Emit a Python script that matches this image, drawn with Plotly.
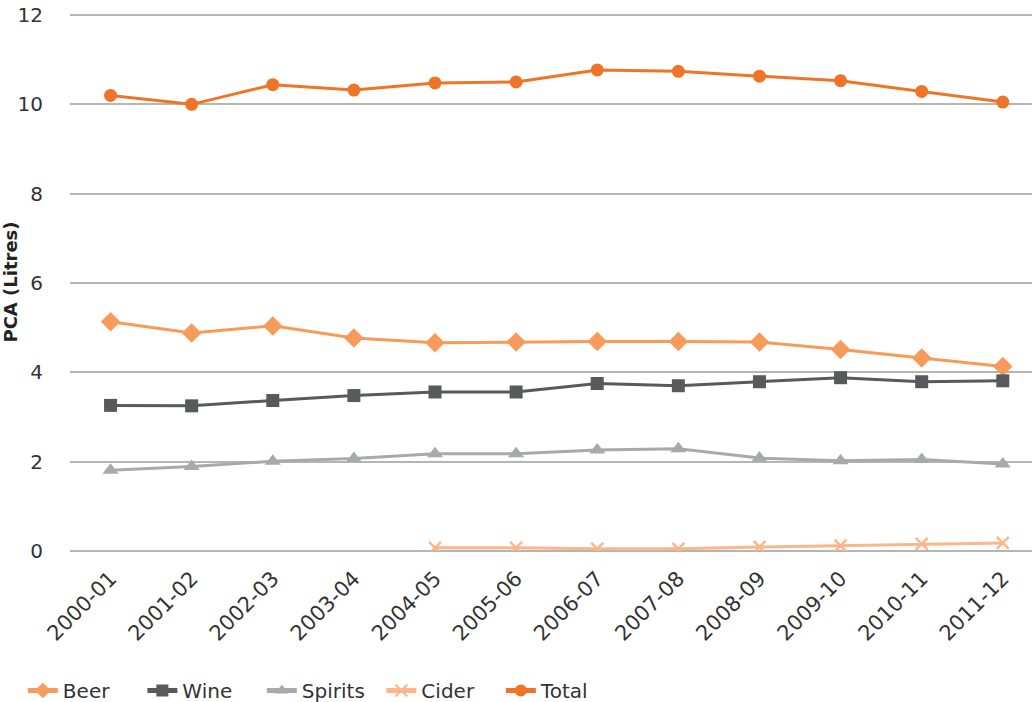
import plotly.graph_objects as go

years = ["2000-01", "2001-02", "2002-03", "2003-04", "2004-05", "2005-06",
         "2006-07", "2007-08", "2008-09", "2009-10", "2010-11", "2011-12"]
beer = [5.13, 4.88, 5.04, 4.77, 4.66, 4.68, 4.69, 4.69, 4.68, 4.51, 4.32, 4.13]
wine = [3.26, 3.25, 3.37, 3.48, 3.56, 3.56, 3.75, 3.70, 3.79, 3.88, 3.79, 3.81]
spirits = [1.81, 1.89, 2.01, 2.07, 2.18, 2.18, 2.26, 2.29, 2.08, 2.02, 2.05, 1.95]
cider = [None, None, None, None, 0.07, 0.07, 0.05, 0.05, 0.09, 0.12, 0.16, 0.18]
total = [10.20, 10.00, 10.44, 10.32, 10.48, 10.50, 10.77, 10.74, 10.63, 10.53, 10.29, 10.05]
y_ticks = [0, 2, 4, 6, 8, 10, 12]

series = [
    ("Beer", beer, "#F79A5A", "diamond", 15),
    ("Wine", wine, "#58595B", "square", 13),
    ("Spirits", spirits, "#A7A9AC", "triangle-up", 14),
    ("Cider", cider, "#FBB68A", "x-thin", 12),
    ("Total", total, "#F07427", "circle", 13),
]

fig = go.Figure()
for name, vals, color, sym, size in series:
    marker = dict(symbol=sym, size=size, color=color)
    if sym == "x-thin":
        marker["line"] = dict(color=color, width=2.5)
    fig.add_trace(go.Scatter(
        x=list(range(len(years))), y=vals, name=name, mode="lines+markers",
        line=dict(color=color, width=3), marker=marker,
    ))

FONT = "'DejaVu Sans', sans-serif"
fig.update_layout(
    width=1032, height=702,
    margin=dict(l=70, r=0, t=13, b=151, autoexpand=False),
    paper_bgcolor="white", plot_bgcolor="white",
    font=dict(family=FONT, size=20, color="#333333"),
    showlegend=True,
    legend=dict(orientation="h", x=-0.049, xanchor="left", y=-0.223, yanchor="top",
                font=dict(family=FONT, size=20, color="#333333"), itemsizing="constant",
                itemwidth=30, tracegroupgap=0, entrywidth=74.5, entrywidthmode="pixels"),
)
fig.add_hline(y=y_ticks[-1], line=dict(color="#B5B5B5", width=1.5), layer="below")
fig.update_xaxes(
    tickmode="array", tickvals=list(range(len(years))), ticktext=years,
    tickangle=-45, range=[-0.5, 11.36], showgrid=False, zeroline=False,
    showline=False, ticks="", ticklabelstandoff=10,
    tickfont=dict(family=FONT, size=21, color="#333333"),
    automargin=False, ticklabeloverflow="allow",
)
fig.update_yaxes(
    range=[0, 12.045], tickmode="array", tickvals=y_ticks,
    showgrid=True, gridcolor="#B5B5B5", gridwidth=1.5,
    zeroline=True, zerolinecolor="#B5B5B5", zerolinewidth=1.5,
    showline=False, ticks="", ticklabelstandoff=26, ticklabeloverflow="allow",
    tickfont=dict(family=FONT, size=20, color="#333333"), automargin=False,
    title=dict(text="<b>PCA (Litres)</b>", font=dict(family=FONT, size=18, color="#222222"), standoff=8),
)
fig.write_html("out.html", config={"displayModeBar": False},
               post_script="document.body.style.margin='0';document.body.style.padding='0';")
